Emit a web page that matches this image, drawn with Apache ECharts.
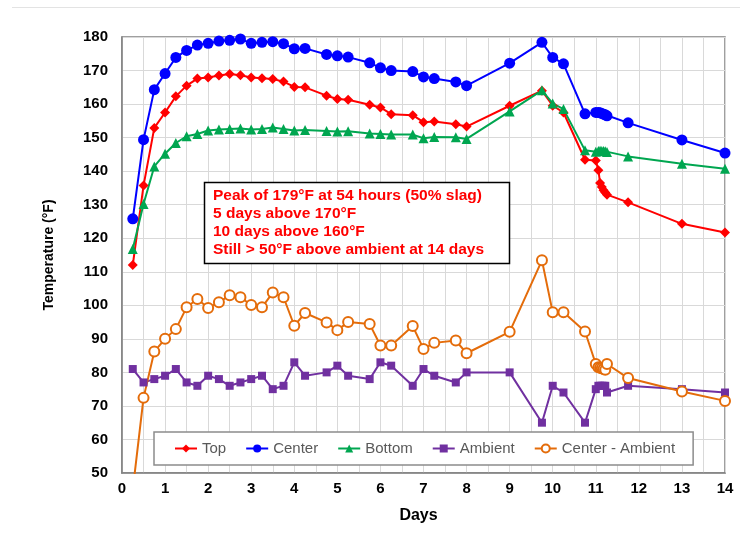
<!DOCTYPE html>
<html>
<head>
<meta charset="utf-8">
<script src="https://cdn.jsdelivr.net/npm/echarts@6/dist/echarts.min.js"></script>
<style>
html,body{margin:0;padding:0;background:#fff;}
#chart{width:740px;height:534px;}
</style>
</head>
<body>
<div id="chart"></div>
<script>
// ---- Data ----
const days = [0.25, 0.5, 0.75, 1.0, 1.25, 1.5, 1.75, 2.0, 2.25, 2.5, 2.75, 3.0, 3.25, 3.5, 3.75, 4.0, 4.25,
              4.75, 5.0, 5.25, 5.75, 6.0, 6.25, 6.75, 7.0, 7.25, 7.75, 8.0,
              9.0, 9.75, 10.0, 10.25, 10.75,
              11.0, 11.06, 11.1, 11.14, 11.18, 11.22, 11.26,
              11.75, 13.0, 14.0];

const topTemp = [112.0, 135.7, 152.9, 157.5, 162.3, 165.5, 167.6, 167.9, 168.5, 169.0, 168.6, 167.9, 167.7, 167.5, 166.7, 165.1, 165.0,
                 162.5, 161.5, 161.3, 159.8, 159.0, 157.0, 156.7, 154.6, 154.8, 154.0, 153.3,
                 159.5, 164.0, 159.5, 157.5, 143.4,
                 143.2, 140.3, 136.5, 135.3, 134.3, 133.6, 133.0,
                 130.7, 124.3, 121.7];

const centerTemp = [125.8, 149.4, 164.3, 169.1, 173.9, 176.0, 177.6, 178.1, 178.8, 179.0, 179.4, 178.1, 178.4, 178.6, 178.0, 176.5, 176.6,
                    174.8, 174.4, 174.0, 172.3, 170.8, 170.0, 169.7, 168.1, 167.6, 166.6, 165.5,
                    172.2, 178.4, 173.9, 172.0, 157.1,
                    157.5, 157.5, 157.4, 157.2, 157.0, 156.8, 156.5,
                    154.4, 149.3, 145.4];

const bottomTemp = [116.8, 130.2, 141.4, 145.2, 148.4, 150.4, 151.1, 152.1, 152.4, 152.6, 152.7, 152.4, 152.6, 153.0, 152.6, 152.1, 152.3,
                    152.0, 151.8, 151.9, 151.2, 151.1, 150.9, 150.9, 149.8, 150.2, 150.1, 149.6,
                    157.8, 164.1, 160.2, 158.5, 146.2,
                    145.8, 146.0, 146.1, 146.0, 146.0, 145.9, 145.7,
                    144.4, 142.2, 140.7];

const ambientTemp = [81, 77, 78, 79, 81, 77, 76, 79, 78, 76, 77, 78, 79, 75, 76, 83, 79,
                     80, 82, 79, 78, 83, 82, 76, 81, 79, 77, 80,
                     80, 65, 76, 74, 65,
                     75, 76, 76, 76, 76, 76, 74,
                     76, 75, 74];

const centerMinusAmbient = [45.0, 72.4, 86.2, 90.0, 92.9, 99.4, 101.9, 99.2, 100.9, 103.0, 102.4, 100.1, 99.4, 103.8, 102.4, 93.9, 97.7,
                            94.9, 92.6, 95.0, 94.4, 88.0, 88.0, 93.8, 87.0, 88.8, 89.5, 85.7,
                            92.1, 113.4, 97.9, 97.9, 92.2,
                            82.5, 81.5, 81.4, 81.2, 81.0, 80.8, 82.5,
                            78.3, 74.3, 71.5];

const seriesNames = ['Top', 'Center', 'Bottom', 'Ambient', 'Center - Ambient'];
const xTickLabels = ['0','1','2','3','4','5','6','7','8','9','10','11','12','13','14'];
const yTickLabels = ['50','60','70','80','90','100','110','120','130','140','150','160','170','180'];
const annotationLines = [
  'Peak of 179°F at 54 hours (50% slag)',
  '5 days above 170°F',
  '10 days above 160°F',
  'Still > 50°F above ambient at 14 days'
];
const xAxisTitle = 'Days';
const yAxisTitle = 'Temperature (°F)';

// ---- Chart ----
const FONT = '"Liberation Sans", Arial, sans-serif';
const chart = echarts.init(document.getElementById('chart'), null, {renderer: 'canvas'});
const pairs = ys => days.map((d, i) => [d, ys[i]]);

function lineSeries(name, ys, color, symbol, size, extra) {
  return Object.assign({
    name: name,
    type: 'line',
    data: pairs(ys),
    symbol: symbol,
    symbolSize: size,
    showAllSymbol: true,
    clip: true,
    itemStyle: {color: color},
    lineStyle: {color: color, width: 2},
    emphasis: {disabled: true}
  }, extra || {});
}

const option = {
  animation: false,
  backgroundColor: '#ffffff',
  textStyle: {fontFamily: FONT},
  grid: {
    left: 122, top: 37, right: 15, bottom: 61,
    show: true, borderColor: '#808080', borderWidth: 1.5, backgroundColor: 'transparent'
  },
  xAxis: {
    type: 'value', min: 0, max: 14, interval: 0.5,
    axisLine: {show: true, onZero: false, lineStyle: {color: '#808080', width: 1.5}},
    axisTick: {show: false},
    axisLabel: {
      formatter: v => (Number.isInteger(v) ? xTickLabels[v] : ''),
      color: '#000', fontWeight: 'bold', fontSize: 15, fontFamily: FONT, margin: 8
    },
    splitLine: {show: true, lineStyle: {color: '#d9d9d9', width: 1}},
    name: xAxisTitle, nameLocation: 'middle', nameGap: 35,
    nameTextStyle: {color: '#000', fontWeight: 'bold', fontSize: 16, fontFamily: FONT, padding: [0, 10, 0, 0]}
  },
  yAxis: {
    type: 'value', min: 50, max: 180, interval: 10,
    axisLine: {show: true, lineStyle: {color: '#808080', width: 1.5}},
    axisTick: {show: false},
    axisLabel: {
      formatter: v => yTickLabels[Math.round((v - 50) / 10)],
      color: '#000', fontWeight: 'bold', fontSize: 15, fontFamily: FONT, margin: 14
    },
    splitLine: {show: true, lineStyle: {color: '#d9d9d9', width: 1}},
    name: yAxisTitle, nameLocation: 'middle', nameGap: 66, nameRotate: 90,
    nameTextStyle: {color: '#000', fontWeight: 'bold', fontSize: 14, fontFamily: FONT}
  },
  legend: {
    left: 154, top: 432,
    padding: [9, 18, 9, 20],
    itemGap: 19,
    itemWidth: 22, itemHeight: 10,
    borderColor: '#8c8c8c', borderWidth: 1.5, backgroundColor: '#ffffff',
    textStyle: {fontSize: 15, color: '#595959', fontFamily: FONT},
    data: seriesNames
  },
  series: [
    lineSeries(seriesNames[0], topTemp, '#ff0000', 'diamond', 10),
    lineSeries(seriesNames[1], centerTemp, '#0000ff', 'circle', 11),
    lineSeries(seriesNames[2], bottomTemp, '#00a650', 'triangle', 10),
    lineSeries(seriesNames[3], ambientTemp, '#7030a0', 'rect', 8),
    lineSeries(seriesNames[4], centerMinusAmbient, '#e46c0a', 'emptyCircle', 10,
      {itemStyle: {color: '#e46c0a', borderWidth: 2}})
  ],
  graphic: [
    {type: 'line', z: 100, shape: {x1: 12, y1: 7.5, x2: 740, y2: 7.5},
     style: {stroke: '#e3e3e3', lineWidth: 1}},
    {type: 'rect', z: 100, shape: {x: 204.5, y: 182.5, width: 305, height: 81},
     style: {fill: '#ffffff', stroke: '#000000', lineWidth: 1.5}},
    {type: 'text', z: 101, left: 213, top: 187,
     style: {text: annotationLines.join('\n'), fill: '#ff0000',
             font: 'bold 15.5px "Liberation Sans", Arial, sans-serif', lineHeight: 17.8}}
  ]
};
chart.setOption(option);
</script>
</body>
</html>
